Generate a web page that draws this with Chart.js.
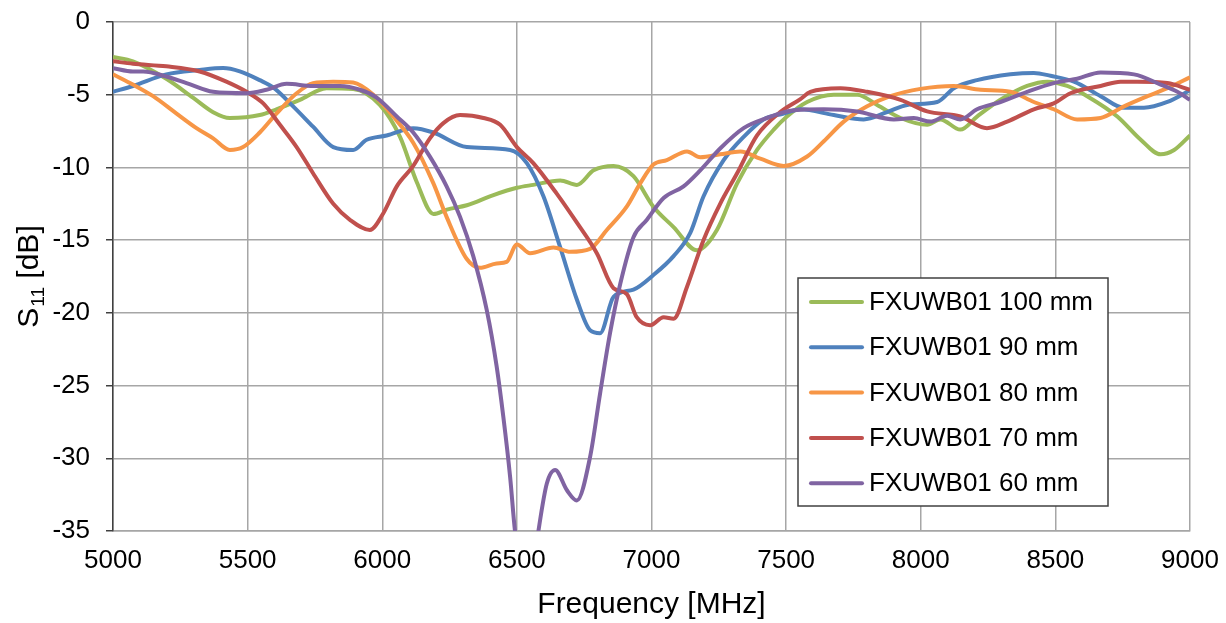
<!DOCTYPE html>
<html><head><meta charset="utf-8">
<script src="https://cdn.jsdelivr.net/npm/chart.js@4.4.1/dist/chart.umd.min.js"></script>
<style>html,body{margin:0;padding:0;background:#fff;}#wrap{width:1226px;height:623px;}</style>
</head><body><div id="wrap"><canvas id="c" width="1226" height="623"></canvas></div>
<script>
// ---------- data ----------
const seriesLabels = ['FXUWB01 100 mm','FXUWB01 90 mm','FXUWB01 80 mm','FXUWB01 70 mm','FXUWB01 60 mm'];
const seriesColors = ['#9BBB59','#4F81BD','#F79646','#C0504D','#8064A2'];
const xTitle = 'Frequency [MHz]';
const yTitleMain = 'S', yTitleSub = '11', yTitleTail = ' [dB]';

const freq100 = [5000,5074,5198,5297,5372,5434,5545,5607,5694,5793,5892,5991,6066,6128,6190,6240,6314,6413,6500,6561,6661,6723,6785,6859,6933,7007,7082,7169,7243,7318,7392,7454,7503,7578,7677,7764,7838,7925,8024,8073,8147,8209,8296,8395,8470,8544,8618,8730,8817,8891,8941,9000];
const s11_100 = [-2.4,-2.7,-3.9,-5.2,-6.2,-6.6,-6.4,-6.0,-5.35,-4.55,-4.6,-5.7,-7.9,-11.0,-13.2,-12.9,-12.6,-11.9,-11.4,-11.2,-10.9,-11.2,-10.2,-9.9,-10.6,-12.7,-14.1,-15.7,-14.3,-11.1,-8.8,-7.4,-6.5,-5.5,-5.0,-5.0,-5.7,-6.6,-7.07,-6.7,-7.4,-6.5,-5.35,-4.4,-4.1,-4.4,-5.1,-6.5,-8.1,-9.1,-8.8,-7.8];

const freq90 = [5000,5074,5198,5322,5409,5471,5545,5595,5669,5743,5818,5892,5942,6016,6115,6190,6314,6475,6537,6599,6661,6723,6772,6809,6859,6933,7007,7082,7144,7193,7268,7342,7416,7491,7553,7677,7788,7875,7950,8061,8123,8209,8333,8420,8482,8569,8668,8755,8829,8916,9000];
const s11_90 = [-4.8,-4.4,-3.6,-3.3,-3.17,-3.4,-4.0,-4.5,-5.8,-7.2,-8.6,-8.8,-8.1,-7.8,-7.3,-7.6,-8.6,-8.8,-9.7,-12.0,-15.5,-19.1,-21.2,-21.4,-18.9,-18.4,-17.4,-16.1,-14.5,-12.0,-9.5,-7.9,-6.7,-6.3,-6.0,-6.4,-6.7,-6.2,-5.7,-5.5,-4.55,-4.0,-3.6,-3.5,-3.7,-4.1,-5.1,-5.9,-5.9,-5.5,-4.7];

const freq80 = [5000,5074,5149,5236,5310,5372,5434,5483,5545,5607,5682,5743,5818,5892,5967,6041,6115,6190,6239,6314,6363,6425,6462,6500,6549,6636,6698,6772,6834,6908,6958,7007,7057,7132,7181,7255,7330,7404,7491,7578,7640,7714,7801,7887,7999,8123,8222,8333,8420,8494,8581,8668,8755,8829,8916,9000];
const s11_80 = [-3.6,-4.3,-5.1,-6.3,-7.3,-8.0,-8.8,-8.6,-7.6,-6.3,-4.9,-4.2,-4.1,-4.16,-5.0,-6.5,-8.3,-11.1,-13.4,-16.3,-16.9,-16.6,-16.5,-15.3,-15.9,-15.5,-15.8,-15.6,-14.3,-12.7,-11.1,-9.8,-9.5,-8.9,-9.3,-9.1,-8.9,-9.4,-9.9,-9.25,-8.2,-6.85,-5.8,-5.1,-4.6,-4.4,-4.66,-4.8,-5.5,-6.0,-6.7,-6.6,-5.8,-5.2,-4.55,-3.8];

const freq70 = [5000,5074,5198,5322,5421,5496,5558,5620,5682,5743,5818,5880,5954,6004,6054,6115,6177,6227,6289,6376,6438,6500,6561,6648,6723,6797,6859,6908,6945,6995,7045,7082,7132,7193,7255,7318,7392,7478,7553,7590,7702,7801,7925,8024,8147,8246,8321,8420,8494,8556,8668,8742,8804,8916,9000];
const s11_70 = [-2.7,-2.87,-3.05,-3.4,-4.1,-4.8,-5.6,-7.07,-8.6,-10.4,-12.5,-13.6,-14.3,-13.15,-11.3,-9.9,-8.0,-6.95,-6.4,-6.6,-7.07,-8.6,-9.7,-11.8,-13.8,-15.9,-18.3,-18.7,-20.3,-20.85,-20.3,-20.4,-18.2,-15.0,-12.5,-10.4,-7.8,-6.2,-5.3,-4.8,-4.55,-4.8,-5.35,-6.15,-6.5,-7.3,-6.85,-6.0,-5.6,-4.9,-4.4,-4.1,-4.1,-4.2,-4.66];

const freq60 = [5000,5074,5112,5198,5273,5372,5496,5570,5645,5743,5843,5917,5979,6054,6115,6177,6239,6289,6338,6388,6425,6450,6475,6493,6515,6540,6565,6580,6611,6642,6686,6723,6772,6809,6846,6884,6933,6983,7045,7119,7181,7255,7342,7429,7516,7640,7764,7900,7974,8036,8098,8147,8209,8296,8395,8494,8581,8668,8792,8891,8953,9000];
const s11_60 = [-3.17,-3.4,-3.4,-3.75,-4.2,-4.8,-4.9,-4.66,-4.25,-4.4,-4.4,-4.66,-5.2,-6.5,-7.6,-9.26,-11.3,-13.4,-16.1,-19.8,-23.7,-27.2,-31.3,-35.0,-37.5,-38.5,-37.0,-35.0,-31.75,-30.8,-32.2,-32.9,-29.9,-25.55,-21.4,-18.0,-14.8,-13.6,-12.1,-11.3,-10.2,-8.7,-7.3,-6.6,-6.1,-6.0,-6.15,-6.7,-6.6,-6.85,-6.45,-6.7,-6.0,-5.5,-4.8,-4.2,-3.9,-3.47,-3.6,-4.3,-4.8,-5.35];

const xTicks = [5000,5500,6000,6500,7000,7500,8000,8500,9000];
const yTicks = [0,-5,-10,-15,-20,-25,-30,-35];

// ---------- build ----------
const freqs = [freq100,freq90,freq80,freq70,freq60];
const vals = [s11_100,s11_90,s11_80,s11_70,s11_60];
const datasets = seriesLabels.map((lab,i)=>({
  label: lab,
  data: freqs[i].map((f,k)=>({x:f,y:vals[i][k]})),
  borderColor: seriesColors[i],
  backgroundColor: seriesColors[i],
  borderWidth: 4,
  pointRadius: 0,
  cubicInterpolationMode: 'monotone',
  fill: false,
  order: seriesLabels.length - i,
  clip: {left:0, right:0, top:4, bottom:0}
}));

const FONT = '"Liberation Sans", Arial, sans-serif';
const gridColor = '#a6a6a6';

const decorPlugin = {
  id: 'decor',
  afterDraw(chart) {
    const ctx = chart.ctx;
    const area = chart.chartArea;
    ctx.save();
    // x title
    ctx.fillStyle = '#000';
    ctx.font = '30px ' + FONT;
    ctx.textAlign = 'center';
    ctx.textBaseline = 'alphabetic';
    ctx.fillText(xTitle, (area.left + area.right) / 2, 613);
    // y title with subscript
    ctx.save();
    ctx.translate(27, 277);
    ctx.rotate(-Math.PI / 2);
    const mainFont = '30px ' + FONT, subFont = '19px ' + FONT;
    ctx.font = mainFont; const w1 = ctx.measureText(yTitleMain).width; const w3 = ctx.measureText(yTitleTail).width;
    ctx.font = subFont; const w2 = ctx.measureText(yTitleSub).width;
    let x0 = -(w1 + w2 + w3) / 2;
    ctx.textAlign = 'left';
    ctx.font = mainFont; ctx.fillText(yTitleMain, x0, 11);
    ctx.font = subFont; ctx.fillText(yTitleSub, x0 + w1 + 1, 17);
    ctx.font = mainFont; ctx.fillText(yTitleTail, x0 + w1 + w2 + 1, 11);
    ctx.restore();
    // legend
    const lx = 798, ly = 278, lw = 310, lh = 228;
    ctx.fillStyle = '#fff';
    ctx.fillRect(lx, ly, lw, lh);
    ctx.strokeStyle = '#404040';
    ctx.lineWidth = 1.5;
    ctx.strokeRect(lx, ly, lw, lh);
    ctx.font = '26px ' + FONT;
    ctx.textAlign = 'left';
    ctx.textBaseline = 'middle';
    chart.data.datasets.forEach((ds, i) => {
      const y = 302 + i * 45.3;
      ctx.strokeStyle = ds.borderColor;
      ctx.lineWidth = 4;
      ctx.lineCap = 'round';
      ctx.beginPath(); ctx.moveTo(811, y); ctx.lineTo(862, y); ctx.stroke();
      ctx.fillStyle = '#000';
      ctx.fillText(ds.label, 869, y + 1);
    });
    ctx.restore();
  }
};

new Chart(document.getElementById('c'), {
  type: 'line',
  data: { datasets },
  options: {
    responsive: false,
    animation: false,
    layout: { padding: { top: 22, right: 36, left: 0, bottom: 0 } },
    plugins: { legend: { display: false }, tooltip: { enabled: false } },
    scales: {
      x: {
        type: 'linear', min: 5000, max: 9000,
        afterBuildTicks: s => { s.ticks = xTicks.map(v => ({value: v})); },
        afterFit: s => { s.height = 92; s.paddingLeft = 0; s.paddingRight = 0; },
        grid: { color: gridColor, lineWidth: 1.5, drawTicks: false },
        border: { color: gridColor, width: 1.5 },
        ticks: { color: '#000', font: { size: 26, family: FONT }, padding: 14, maxRotation: 0, autoSkip: false,
                 callback: v => String(v) }
      },
      y: {
        type: 'linear', min: -35, max: 0,
        afterBuildTicks: s => { s.ticks = yTicks.map(v => ({value: v})); },
        afterFit: s => { s.width = 113; s.paddingTop = 0; s.paddingBottom = 0; },
        grid: { color: gridColor, lineWidth: 1.5, drawTicks: true, tickLength: 7, tickColor: '#404040' },
        border: { color: '#404040', width: 1.5 },
        ticks: { color: '#000', font: { size: 26, family: FONT }, padding: 16, autoSkip: false,
                 callback: v => String(v) }
      }
    }
  },
  plugins: [decorPlugin]
});
</script></body></html>
